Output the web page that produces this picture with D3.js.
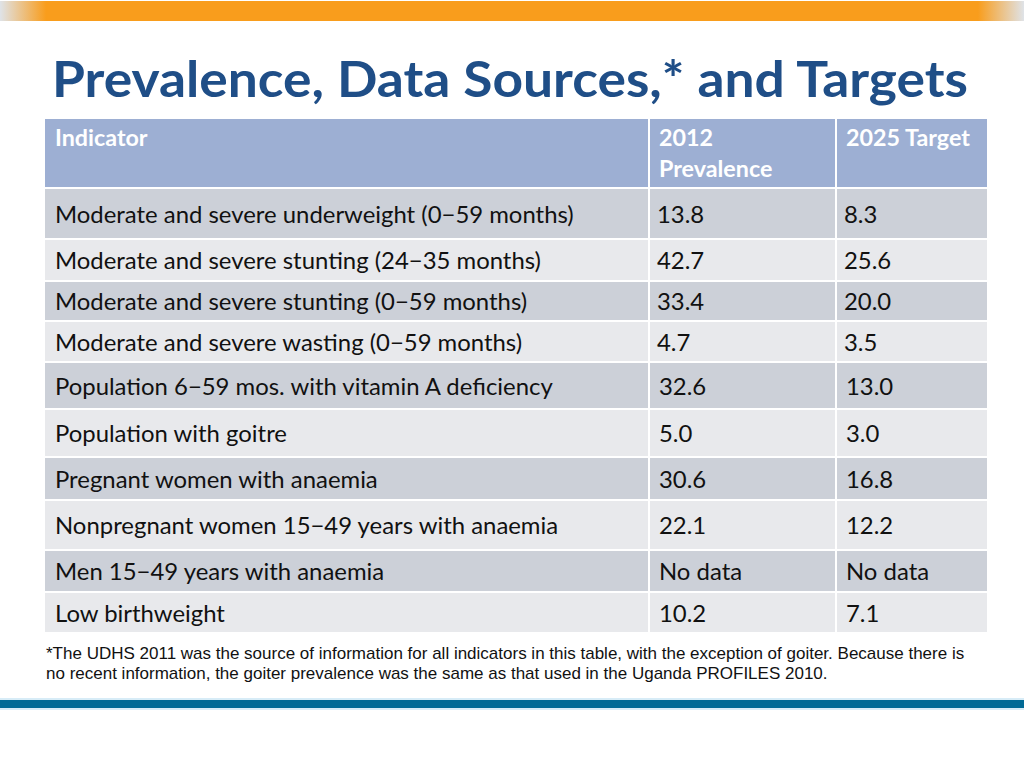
<!DOCTYPE html>
<html><head><meta charset="utf-8">
<script src="https://cdn.jsdelivr.net/npm/d3@7"></script>
<style>html,body{margin:0;padding:0;background:#fff;overflow:hidden}</style>
</head><body>
<svg id="c" width="1024" height="768"></svg>
<script>
const title = "Prevalence, Data Sources,* and Targets";
const headers = ["Indicator", "2012\nPrevalence", "2025 Target"];
const indicators = [
  "Moderate and severe underweight (0\u221259 months)",
  "Moderate and severe stunting (24\u221235 months)",
  "Moderate and severe stunting (0\u221259 months)",
  "Moderate and severe wasting (0\u221259 months)",
  "Population 6\u221259 mos. with vitamin A deficiency",
  "Population with goitre",
  "Pregnant women with anaemia",
  "Nonpregnant women 15\u221249 years with anaemia",
  "Men 15\u221249 years with anaemia",
  "Low birthweight"
];
const prevalence2012 = ["13.8","42.7","33.4","4.7","32.6","5.0","30.6","22.1","No data","10.2"];
const target2025 = ["8.3","25.6","20.0","3.5","13.0","3.0","16.8","12.2","No data","7.1"];
const footnote = [
  "*The UDHS 2011 was the source of information for all indicators in this table, with the exception of goiter. Because there is",
  "no recent information, the goiter prevalence was the same as that used in the Uganda PROFILES 2010."
];

// layout (not data)
const rowHeights = [51, 42, 40, 41, 47, 48, 43, 50, 42, 41];
const colEdges = [45, 649, 836, 987];
const headerTop = 119, headerH = 70;

const svg = d3.select("#c");
const defs = svg.append("defs");
const g1 = defs.append("linearGradient").attr("id","og").attr("x1","0").attr("x2","1");
[[0,"#dfe3e8"],[0.045,"#f99d1c"],[0.955,"#f99d1c"],[1,"#dfe3e8"]].forEach(([o,c])=>g1.append("stop").attr("offset",o).attr("stop-color",c));
svg.append("rect").attr("x",0).attr("y",1).attr("width",1024).attr("height",20).attr("fill","url(#og)");
svg.append("rect").attr("x",0).attr("y",698).attr("width",1024).attr("height",12).attr("fill","#d7ecf7");
svg.append("rect").attr("x",0).attr("y",700).attr("width",1024).attr("height",8).attr("fill","#006a96");

svg.append("text").attr("x",52).attr("y",97).attr("fill","#1f4e87")
  .style("font-family","Lato").style("font-weight","bold").style("font-size","50px")
  .attr("textLength",916).attr("lengthAdjust","spacingAndGlyphs").text(title);

// row scale from cumulative heights
const tops = [];
let acc = headerTop + headerH;
rowHeights.forEach(h=>{tops.push(acc); acc+=h;});
const y = d3.scaleOrdinal().domain(indicators).range(tops);
const x = d3.scaleOrdinal().domain([0,1,2]).range(colEdges.slice(0,3));
const gap = 2;

// header
headers.forEach((h,i)=>{
  svg.append("rect").attr("x",x(i)+(i?1:0)).attr("y",headerTop)
    .attr("width",colEdges[i+1]-x(i)-(i?1:0)-(i<2?1:0)).attr("height",headerH-gap)
    .attr("fill","#9dafd3");
  const t = svg.append("text").attr("x",x(i)+10).attr("y",headerTop+27)
    .attr("fill","#fff").style("font-family","Lato").style("font-weight","bold").style("font-size","23.3px");
  h.split("\n").forEach((line,k)=>t.append("tspan").attr("x",x(i)+10).attr("dy",k?31:0).text(line));
});

const rows = indicators.map((d,i)=>({cells:[d,prevalence2012[i],target2025[i]], i}));
rows.forEach(r=>{
  const top = y(indicators[r.i]);
  const h = rowHeights[r.i];
  const fill = r.i%2===0 ? "#ccd0d8" : "#e8e9ec";
  r.cells.forEach((c,j)=>{
    svg.append("rect").attr("x",x(j)+(j?1:0)).attr("y",top)
      .attr("width",colEdges[j+1]-x(j)-(j?1:0)-(j<2?1:0)).attr("height",h-gap)
      .attr("fill",fill);
    const dx = (j>0 && r.i<4) ? 8 : 10;
    svg.append("text").attr("x",x(j)+dx).attr("y",top+(h-gap)/2+9)
      .attr("fill","#111").style("font-family","Lato").style("font-size","23.9px").text(c);
  });
});

footnote.forEach((l,k)=>svg.append("text").attr("x",46).attr("y",659+k*20)
  .attr("fill","#111").style("font-family","Liberation Sans").style("font-size","17px").text(l));
</script>
</body></html>
